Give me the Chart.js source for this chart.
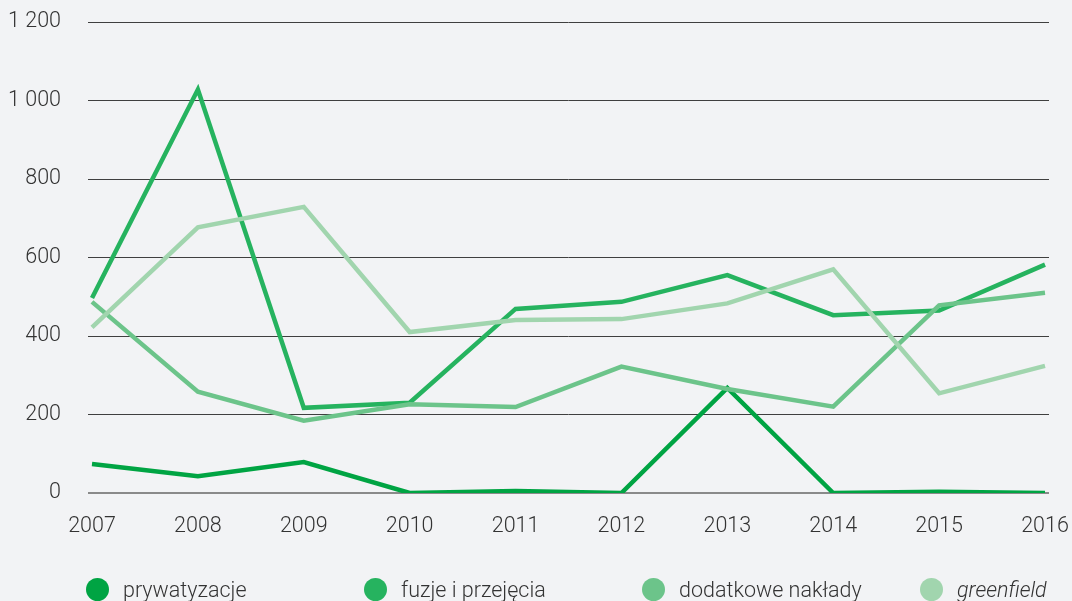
<!DOCTYPE html>
<html>
<head>
<meta charset="utf-8">
<script src="https://cdn.jsdelivr.net/npm/chart.js@4.4.1/dist/chart.umd.min.js"></script>
<style>
  html, body { margin: 0; padding: 0; background: #f2f3f5; }
  #wrap { position: relative; width: 1072px; height: 601px; overflow: hidden; background: #f2f3f5; }
  #c { position: absolute; left: 0; top: 0; }
  .leg { position: absolute; top: 577px; height: 24px; display: flex; align-items: center;
         font-family: Roboto, "Noto Sans", sans-serif; font-weight: 300; font-size: 21.5px; color: #333; white-space: nowrap; }
  .dot { width: 23px; height: 23px; border-radius: 50%; margin-right: 14px; flex: none; }
</style>
</head>
<body>
<div id="wrap">
  <canvas id="c" width="1072" height="601"></canvas>
  <div id="legend"></div>
</div>
<script>
const years = [2007, 2008, 2009, 2010, 2011, 2012, 2013, 2014, 2015, 2016];
const seriesNames = ['prywatyzacje', 'fuzje i przejęcia', 'dodatkowe nakłady', 'greenfield'];
const prywatyzacje = [74, 43, 79, 0, 5, 0, 268, 0, 3, 0];
const fuzje = [497, 1028, 217, 230, 469, 487, 555, 453, 465, 582];
const dodatkowe = [487, 258, 184, 226, 219, 322, 265, 220, 478, 510];
const greenfield = [422, 677, 729, 410, 441, 443, 483, 570, 254, 324];
const yTicks = [0, 200, 400, 600, 800, 1000, 1200];
const colors = ['#00a443', '#26b35f', '#6cc48a', '#a1d5ae'];
const legendX = [86, 364, 642, 920];

const seriesValues = [prywatyzacje, fuzje, dodatkowe, greenfield];
const pxPerYear = (1045 - 92) / 9;
const ext = 4 / pxPerYear;

const datasets = seriesValues.map((vals, i) => ({
  label: seriesNames[i],
  data: years.map((yr, j) => ({ x: yr, y: vals[j] })),
  borderColor: colors[i],
  backgroundColor: colors[i],
  borderWidth: 4.5,
  pointRadius: 0,
  tension: 0,
  fill: false,
  borderJoinStyle: 'miter',
  borderCapStyle: 'butt',
  order: 3 - i
}));

const tickFont = { family: 'Roboto, "Noto Sans", sans-serif', size: 21.5, weight: '300' };

new Chart(document.getElementById('c'), {
  type: 'line',
  data: { datasets },
  options: {
    responsive: false,
    animation: false,
    layout: { padding: { top: 22, right: 23, left: 0, bottom: 68 } },
    plugins: { legend: { display: false }, tooltip: { enabled: false } },
    scales: {
      x: {
        type: 'linear',
        min: years[0] - ext,
        max: years[years.length - 1] + ext,
        afterBuildTicks: (s) => { s.ticks = years.map(v => ({ value: v })); },
        afterFit: (s) => { s.height = 40; },
        grid: { display: true, drawOnChartArea: false, drawTicks: true, tickLength: 21,
                color: 'rgba(0,0,0,0)', tickColor: 'rgba(0,0,0,0)' },
        border: { display: false },
        ticks: { font: tickFont, color: '#333', padding: 0, autoSkip: false, maxRotation: 0,
                 callback: (v) => String(v) }
      },
      y: {
        min: 0,
        max: 1200,
        afterBuildTicks: (s) => { s.ticks = yTicks.map(v => ({ value: v })); },
        afterFit: (s) => { s.width = 88; },
        grid: {
          drawTicks: true,
          tickLength: 27,
          tickColor: 'rgba(0,0,0,0)',
          color: (ctx) => (ctx.tick && ctx.tick.value === 0) ? '#8a8a8a' : '#3f3f3f',
          lineWidth: (ctx) => (ctx.tick && ctx.tick.value === 0) ? 2 : 1
        },
        border: { display: false },
        ticks: {
          font: tickFont, color: '#333', padding: 0,
          callback: (v) => String(v).replace(/\B(?=(\d{3})+(?!\d))/g, ' ')
        }
      }
    }
  }
});

const leg = document.getElementById('legend');
seriesNames.forEach((name, i) => {
  const item = document.createElement('div');
  item.className = 'leg';
  item.style.left = legendX[i] + 'px';
  const dot = document.createElement('span');
  dot.className = 'dot';
  dot.style.background = colors[i];
  const txt = document.createElement('span');
  txt.textContent = name;
  if (name === 'greenfield') txt.style.fontStyle = 'italic';
  item.appendChild(dot);
  item.appendChild(txt);
  leg.appendChild(item);
});
</script>
</body>
</html>
